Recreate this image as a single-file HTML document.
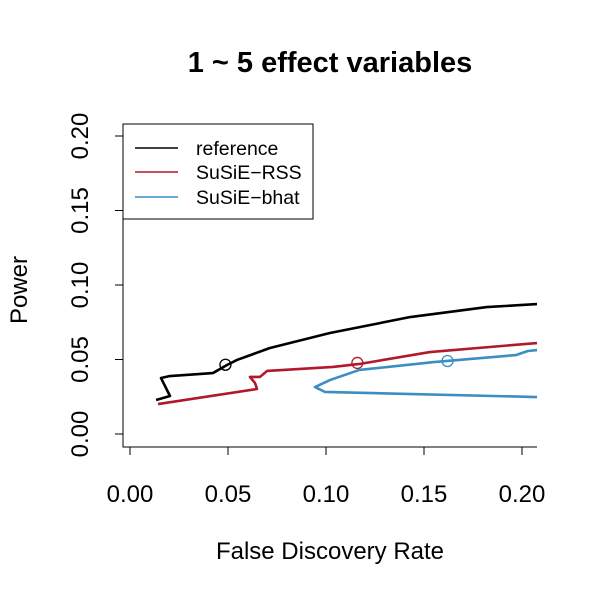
<!DOCTYPE html>
<html><head><meta charset="utf-8"><style>body{margin:0;background:#fff}svg{display:block;font-family:"Liberation Sans",sans-serif}</style></head>
<body>
<svg id="chart" width="600" height="600">
<defs><clipPath id="pc"><rect x="123" y="124" width="414" height="323"/></clipPath></defs>
<text x="330" y="72" font-size="29" font-weight="bold" text-anchor="middle">1 ~ 5 effect variables</text>
<path d="M123,124V447H537" fill="none" stroke="#000" stroke-width="1"/>
<g id="xaxis"></g>
<g id="yaxis"></g>
<g id="series" clip-path="url(#pc)"></g>
<text x="330" y="559" font-size="24" text-anchor="middle">False Discovery Rate</text>
<text transform="translate(27,290) rotate(-90)" font-size="24" text-anchor="middle">Power</text>
<g>
<rect x="123" y="124" width="190" height="95" fill="#fff" stroke="#000"/>
<line x1="135" y1="148" x2="178" y2="148" stroke="#000" stroke-width="1.5"/>
<text x="196" y="155" font-size="19.5">reference</text>
<line x1="135" y1="172" x2="178" y2="172" stroke="#b2182b" stroke-width="1.5"/>
<text x="196" y="179" font-size="19.5">SuSiE−RSS</text>
<line x1="135" y1="197" x2="178" y2="197" stroke="#3a8ec4" stroke-width="1.5"/>
<text x="196" y="204" font-size="19.5">SuSiE−bhat</text>
</g>
</svg>
<script>
const xTicks=[0,0.05,0.10,0.15,0.20];
const xTickLabels=["0.00","0.05","0.10","0.15","0.20"];
const yTicks=[0,0.05,0.10,0.15,0.20];
const yTickLabels=["0.00","0.05","0.10","0.15","0.20"];
const refFdr=[0.0133,0.0204,0.0158,0.0204,0.0423,0.0495,0.0546,0.0714,0.102,0.143,0.182,0.208,0.22];
const refPower=[0.0228,0.0255,0.0376,0.0389,0.0409,0.0463,0.0497,0.0577,0.0678,0.0785,0.0852,0.0872,0.088];
const rssFdr=[0.0143,0.0648,0.0638,0.0612,0.0663,0.0699,0.1036,0.117,0.153,0.208,0.22];
const rssPower=[0.0201,0.0302,0.0342,0.0383,0.0383,0.0423,0.0450,0.0470,0.0550,0.0611,0.062];
const bhatFdr=[0.22,0.208,0.0995,0.0944,0.102,0.117,0.155,0.197,0.203,0.208,0.22];
const bhatPower=[0.0246,0.0248,0.0282,0.0315,0.0362,0.0430,0.0483,0.053,0.0557,0.0564,0.057];
const markerFdr=[0.0487,0.116,0.162];
const markerPower=[0.0465,0.0477,0.049];
const colors=["#000","#b2182b","#3a8ec4"];
const names=["reference","susie-rss","susie-bhat"];
const X=v=>130+v*1960, Y=v=>434-v*1490;
const NS="http://www.w3.org/2000/svg";
function mk(t,a,p){const e=document.createElementNS(NS,t);for(const k in a)e.setAttribute(k,a[k]);p.appendChild(e);return e;}
const xa=document.getElementById('xaxis'),ya=document.getElementById('yaxis'),sg=document.getElementById('series');
xTicks.forEach((t,i)=>{
 const l=mk('line',{x1:X(t),x2:X(t),y1:447,y2:455,stroke:'#000'},xa);
 
 
 const tx=mk('text',{x:X(t),y:502,'font-size':24,'text-anchor':'middle'},xa);tx.textContent=xTickLabels[i];
 
 
});
yTicks.forEach((t,i)=>{
 const l=mk('line',{x1:115,x2:123,y1:Y(t),y2:Y(t),stroke:'#000'},ya);
 
 
 const tx=mk('text',{transform:`translate(88,${Y(t)}) rotate(-90)`,'font-size':24,'text-anchor':'middle'},ya);tx.textContent=yTickLabels[i];
 
 
});
[[refFdr,refPower],[rssFdr,rssPower],[bhatFdr,bhatPower]].forEach((s,i)=>{
 const pts=s[0].map((x,j)=>X(x)+','+Y(s[1][j])).join(' ');
 const pl=mk('polyline',{points:pts,fill:'none',stroke:colors[i],'stroke-width':2.6,'stroke-linejoin':'round'},sg);
 
 
 const c=mk('circle',{cx:X(markerFdr[i]),cy:Y(markerPower[i]),r:5.5,fill:'none',stroke:colors[i],'stroke-width':1.3},sg);
 
 
});
</script>
</body></html>
